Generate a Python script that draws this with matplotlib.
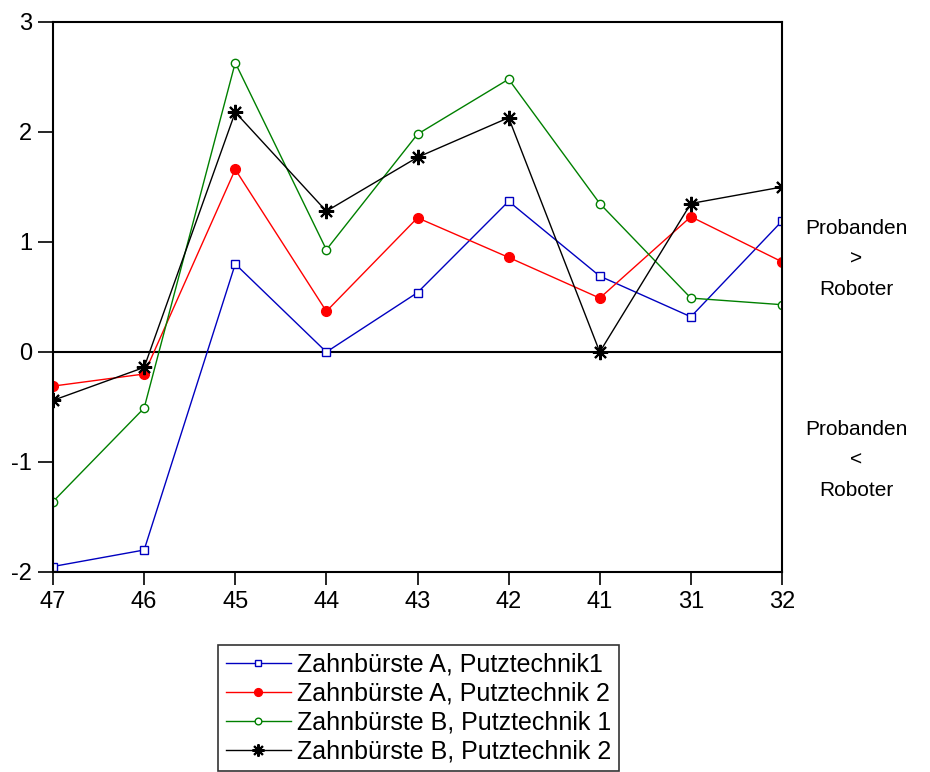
import matplotlib
matplotlib.use("Agg")
import matplotlib.pyplot as plt

plt.rcParams['font.family'] = ['Liberation Sans', 'DejaVu Sans']

categories = ["47", "46", "45", "44", "43", "42", "41", "31", "32"]
a1 = [-1.95, -1.80, 0.80, 0.00, 0.54, 1.37, 0.69, 0.32, 1.19]
a2 = [-0.31, -0.20, 1.66, 0.37, 1.22, 0.86, 0.49, 1.23, 0.82]
b1 = [-1.36, -0.51, 2.63, 0.93, 1.98, 2.48, 1.35, 0.49, 0.43]
b2 = [-0.44, -0.14, 2.18, 1.28, 1.77, 2.13, 0.00, 1.35, 1.50]
labels = ["Zahnbürste A, Putztechnik1", "Zahnbürste A, Putztechnik 2",
          "Zahnbürste B, Putztechnik 1", "Zahnbürste B, Putztechnik 2"]
yticks = [-2, -1, 0, 1, 2, 3]

W, H = 930, 772
fig = plt.figure(figsize=(W / 100, H / 100), dpi=100)
ax = fig.add_axes([53 / W, 1 - 572 / H, (782 - 53) / W, (572 - 22) / H])

x = list(range(len(categories)))
ax.plot(x, a1, color='#0000c0', lw=1, marker='s', ms=6, mfc='white', mec='#0000c0', mew=1, label=labels[0])
ax.plot(x, a2, color='#ff0000', lw=1, marker='o', ms=7, mfc='#ff0000', mec='#ff0000', label=labels[1])
ax.plot(x, b1, color='#008000', lw=1, marker='o', ms=6, mfc='white', mec='#008000', mew=1, label=labels[2])
ax.plot(x, b2, color='black', lw=1, marker=(8, 2, 0), ms=11, mfc='black', mec='black', mew=1.5, label=labels[3])
ax.axhline(0, color='black', lw=1.5, zorder=0)

ax.set_xlim(0, len(categories) - 1)
ax.set_ylim(-2, 3)
ax.set_xticks(x)
ax.set_xticklabels(categories)
ax.set_yticks(yticks)
ax.set_yticklabels([str(v) for v in yticks])
ax.tick_params(axis='x', direction='out', length=9, width=1.2, labelsize=17, colors='black', pad=5)
ax.tick_params(axis='y', direction='out', length=11, width=1.2, labelsize=17, colors='black', pad=4)
for s in ax.spines.values():
    s.set_linewidth(1.5)
    s.set_color('black')

fig.text(856 / W, 1 - 259 / H, "Probanden\n>\nRoboter", ha='center', va='center',
         fontsize=15, linespacing=1.75)
fig.text(856 / W, 1 - 460 / H, "Probanden\n<\nRoboter", ha='center', va='center',
         fontsize=15, linespacing=1.75)

leg = fig.legend(loc='upper left', bbox_to_anchor=(218 / W, 1 - 645 / H),
                 fontsize=18, frameon=True, fancybox=False, edgecolor='black',
                 handlelength=2.6, handletextpad=0.25, labelspacing=0.2,
                 borderpad=0.3, borderaxespad=0, markerscale=0.8)
leg.get_frame().set_linewidth(1.2)

fig.savefig("out.png", dpi=100)
